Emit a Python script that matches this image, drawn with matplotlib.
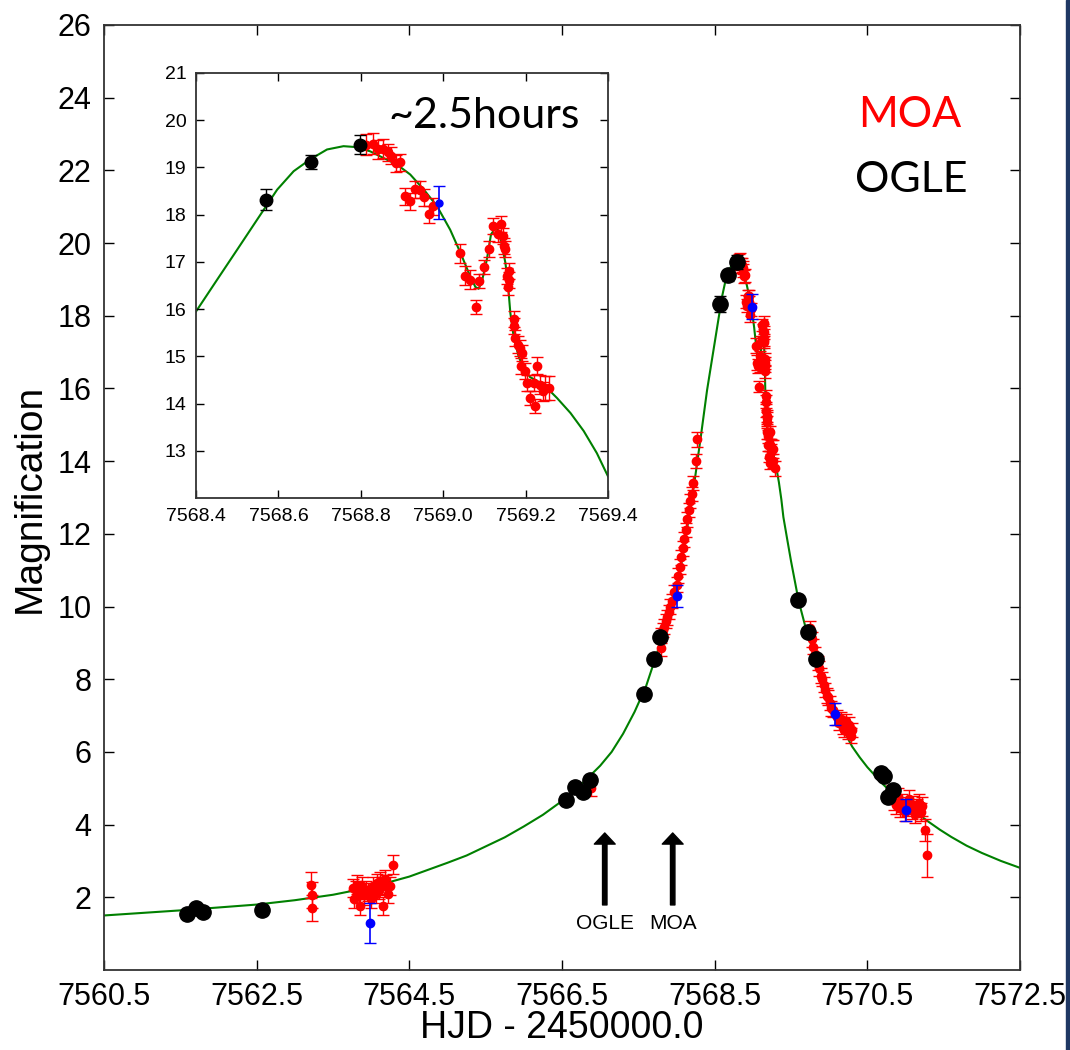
import numpy as np
import matplotlib
matplotlib.use('Agg')
import matplotlib.pyplot as plt
from matplotlib.patches import Rectangle

plt.rcParams['font.family'] = ['Liberation Sans', 'DejaVu Sans']

# ---- data ----
# model curve, main panel (left wing, right wing); the peak part is shared with the inset
model_left_t = [7560.5, 7561.0, 7561.5, 7562.0, 7562.5, 7563.0, 7563.5, 7564.0, 7564.5, 7565.0,
                7565.25, 7565.5, 7565.75, 7566.0, 7566.25, 7566.5, 7566.75, 7567.0, 7567.15, 7567.3,
                7567.45, 7567.6, 7567.75, 7567.85, 7567.95, 7568.05, 7568.15, 7568.24, 7568.32]
model_left_a = [1.50, 1.57, 1.64, 1.72, 1.80, 1.92, 2.07, 2.28, 2.57, 2.95,
                3.15, 3.40, 3.65, 3.95, 4.27, 4.65, 5.10, 5.62, 6.00, 6.50,
                7.10, 7.80, 8.75, 9.45, 10.10, 11.00, 12.30, 13.50, 14.70]
model_peak_t = [7568.4, 7568.451, 7568.5, 7568.548, 7568.597, 7568.637, 7568.677, 7568.718, 7568.758,
                7568.79, 7568.823, 7568.855, 7568.888, 7568.92, 7568.953, 7568.985, 7569.017, 7569.042,
                7569.062, 7569.078, 7569.086, 7569.094, 7569.106, 7569.116, 7569.127, 7569.135, 7569.143,
                7569.151, 7569.157, 7569.163, 7569.171, 7569.183, 7569.195, 7569.211, 7569.244, 7569.276,
                7569.309, 7569.341, 7569.373, 7569.4]
model_peak_a = [15.95, 16.62, 17.26, 17.89, 18.53, 18.92, 19.17, 19.38, 19.45,
                19.43, 19.34, 19.20, 19.06, 18.85, 18.53, 18.18, 17.68, 17.19,
                16.77, 16.47, 16.43, 16.59, 17.05, 17.58, 17.72, 17.65, 17.33,
                16.98, 16.55, 15.92, 15.42, 15.00, 14.75, 14.56, 14.40, 14.12,
                13.80, 13.42, 12.95, 12.46]
model_right_t = [7569.45, 7569.5, 7569.6, 7569.7, 7569.8, 7569.9, 7570.0, 7570.1, 7570.2, 7570.3,
                 7570.4, 7570.5, 7570.6, 7570.7, 7570.85, 7571.0, 7571.15, 7571.3, 7571.45, 7571.6,
                 7571.8, 7572.0, 7572.25, 7572.5]
model_right_a = [11.85, 11.25, 10.15, 9.35, 8.72, 8.15, 7.60, 7.02, 6.55, 6.15,
                 5.85, 5.58, 5.35, 5.12, 4.82, 4.56, 4.32, 4.08, 3.86, 3.66,
                 3.42, 3.22, 3.00, 2.81]

# OGLE (black)
ogle_t = [7561.59, 7561.70, 7561.80, 7562.57, 7566.55, 7566.67, 7566.78, 7566.87, 7567.57, 7567.71,
          7567.79, 7568.57, 7568.68, 7568.797, 7569.59, 7569.72, 7569.83, 7570.68, 7570.72, 7570.77, 7570.84]
ogle_a = [1.54, 1.70, 1.60, 1.65, 4.68, 5.03, 4.90, 5.23, 7.59, 8.55,
          9.16, 18.32, 19.11, 19.48, 10.17, 9.30, 8.55, 5.42, 5.34, 4.76, 4.95]
ogle_e = [0.10, 0.10, 0.10, 0.15, 0.10, 0.10, 0.10, 0.12, 0.10, 0.10,
          0.10, 0.23, 0.15, 0.20, 0.10, 0.10, 0.10, 0.10, 0.10, 0.10, 0.10]

# third data set (blue)
other_t = [7563.98, 7568.00, 7568.99, 7570.08, 7571.00]
other_a = [1.28, 10.29, 18.25, 7.04, 4.40]
other_e = [0.55, 0.30, 0.35, 0.30, 0.30]

# MOA (red) outside the peak
moa_t = [7563.21, 7563.22, 7563.23,
         7563.76, 7563.78, 7563.80, 7563.82, 7563.84, 7563.86, 7563.88, 7563.90, 7563.93, 7563.96,
         7564.00, 7564.03, 7564.06, 7564.08, 7564.10, 7564.12, 7564.14, 7564.16, 7564.18, 7564.20,
         7564.22, 7564.25, 7564.28,
         7566.88,
         7567.80, 7567.80, 7567.82, 7567.84, 7567.86, 7567.88, 7567.90, 7567.92, 7567.94, 7567.97,
         7568.00, 7568.02, 7568.04, 7568.06, 7568.08, 7568.10, 7568.12, 7568.14, 7568.16, 7568.18,
         7568.20, 7568.22, 7568.25, 7568.27,
         7569.27, 7569.29,
         7569.75, 7569.77, 7569.79, 7569.81, 7569.85, 7569.87, 7569.89, 7569.91, 7569.93, 7569.95,
         7569.97, 7569.99, 7570.01, 7570.03, 7570.05, 7570.10, 7570.13, 7570.16, 7570.18, 7570.20,
         7570.22, 7570.24, 7570.26, 7570.28, 7570.30,
         7570.82, 7570.85, 7570.88, 7570.90, 7570.93, 7570.96, 7570.99, 7571.02, 7571.05, 7571.08,
         7571.10, 7571.12, 7571.15, 7571.18, 7571.20, 7571.22, 7571.26, 7571.28]
moa_a = [2.34, 2.06, 1.70,
         2.25, 1.95, 2.20, 2.35, 2.10, 1.75, 2.30, 2.05, 2.20, 2.15,
         1.95, 2.30, 2.10, 2.40, 2.20, 2.45, 2.30, 1.75, 2.50, 2.35,
         2.10, 2.30, 2.90,
         5.00,
         8.85, 9.20, 9.35, 9.45, 9.60, 9.70, 9.85, 10.00, 10.15, 10.40,
         10.60, 10.85, 11.10, 11.35, 11.60, 11.85, 12.10, 12.40, 12.65, 12.90,
         13.10, 13.40, 14.00, 14.60,
         14.00, 13.80,
         9.40, 9.10, 8.90, 8.70, 8.45, 8.30, 8.10, 8.00, 7.85, 7.70,
         7.55, 7.50, 7.35, 7.20, 7.15, 6.95, 6.80, 6.90, 6.70, 6.60,
         6.85, 6.55, 6.75, 6.45, 6.60,
         4.85, 4.65, 4.55, 4.75, 4.45, 4.60, 4.35, 4.50, 4.70, 4.40,
         4.55, 4.30, 4.45, 4.60, 4.35, 4.50, 3.85, 3.15]
moa_e = [0.35, 0.35, 0.35,
         0.25, 0.25, 0.25, 0.25, 0.25, 0.25, 0.25, 0.25, 0.25, 0.25,
         0.25, 0.25, 0.25, 0.25, 0.25, 0.25, 0.25, 0.25, 0.25, 0.25,
         0.25, 0.25, 0.25,
         0.20,
         0.20, 0.20, 0.20, 0.20, 0.20, 0.20, 0.20, 0.20, 0.20, 0.20,
         0.20, 0.20, 0.20, 0.20, 0.20, 0.20, 0.20, 0.20, 0.20, 0.20,
         0.20, 0.20, 0.20, 0.20,
         0.20, 0.20,
         0.20, 0.20, 0.20, 0.20, 0.20, 0.20, 0.20, 0.20, 0.20, 0.20,
         0.20, 0.20, 0.20, 0.20, 0.20, 0.20, 0.20, 0.20, 0.20, 0.20,
         0.20, 0.20, 0.20, 0.20, 0.20,
         0.25, 0.25, 0.25, 0.25, 0.25, 0.25, 0.25, 0.25, 0.25, 0.25,
         0.25, 0.25, 0.25, 0.25, 0.25, 0.25, 0.30, 0.60]

# MOA (red) around the peak, shown in both panels
peak_moa_t = [7568.813, 7568.830, 7568.842, 7568.853, 7568.865, 7568.873, 7568.885, 7568.896,
              7568.908, 7568.92, 7568.932, 7568.943, 7568.953, 7568.965, 7568.975,
              7569.042, 7569.052, 7569.066, 7569.079, 7569.088, 7569.098, 7569.11, 7569.122, 7569.132, 7569.141,
              7569.145, 7569.147, 7569.151, 7569.155, 7569.159, 7569.16, 7569.157,
              7569.173, 7569.171, 7569.175, 7569.181, 7569.187, 7569.191, 7569.189, 7569.199, 7569.203, 7569.211,
              7569.22, 7569.224, 7569.228, 7569.236, 7569.242, 7569.248, 7569.258]
peak_moa_a = [19.48, 19.50, 19.38, 19.40, 19.32, 19.25, 19.09, 19.11,
              18.39, 18.28, 18.54, 18.53, 18.37, 18.01, 18.18,
              17.18, 16.71, 16.62, 16.05, 16.59, 16.89, 17.27, 17.75, 17.59, 17.81,
              17.54, 17.33, 17.27, 16.70, 16.80, 16.62, 16.47,
              15.79, 15.64, 15.39, 15.25, 15.18, 15.07, 14.79, 14.68, 14.44, 14.12,
              14.44, 13.94, 14.80, 14.40, 14.26, 14.33, 14.33]
peak_moa_e = [0.22, 0.22, 0.20, 0.20, 0.18, 0.18, 0.18, 0.18,
              0.18, 0.18, 0.18, 0.18, 0.18, 0.18, 0.18,
              0.20, 0.20, 0.20, 0.15, 0.15, 0.15, 0.17, 0.17, 0.17, 0.17,
              0.17, 0.17, 0.17, 0.17, 0.17, 0.17, 0.17,
              0.17, 0.17, 0.17, 0.17, 0.17, 0.17, 0.17, 0.17, 0.17, 0.15,
              0.17, 0.15, 0.18, 0.20, 0.20, 0.25, 0.25]

# arrows marking alert times
alert_t = [7567.06, 7567.95]
alert_names = ['OGLE', 'MOA']

model_t = model_left_t + model_peak_t + model_right_t
model_a = model_left_a + model_peak_a + model_right_a
all_moa_t = moa_t + peak_moa_t
all_moa_a = moa_a + peak_moa_a
all_moa_e = moa_e + peak_moa_e

fig = plt.figure(figsize=(10.7, 10.5), dpi=100)

# ---- main panel ----
ax = fig.add_axes([0.0972, 0.0762, 0.8561, 0.9])
ax.plot(model_t, model_a, color='green', lw=1.5, zorder=1)
ax.errorbar(all_moa_t, all_moa_a, yerr=all_moa_e, fmt='o', color='red', ms=6, capsize=4,
            elinewidth=1, capthick=1, zorder=2)
ax.errorbar(ogle_t, ogle_a, yerr=ogle_e, fmt='o', color='black', ms=11, capsize=4,
            elinewidth=1, zorder=3)
ax.errorbar(other_t, other_a, yerr=other_e, fmt='o', color='blue', ms=6, capsize=4,
            elinewidth=1.2, zorder=4)

for t, name in zip(alert_t, alert_names):
    ax.annotate('', xy=(t, 3.77), xytext=(t, 1.79),
                arrowprops=dict(facecolor='black', edgecolor='black', width=3.2,
                                headwidth=15, headlength=8, shrink=0))
    ax.text(t, 1.29, name, ha='center', va='center', fontsize=15)

ax.set_xlim(7560.5, 7572.5)
ax.set_ylim(0, 26)
ax.set_xticks(np.arange(7560.5, 7573, 2.0))
ax.set_xticklabels(['%.1f' % v for v in np.arange(7560.5, 7573, 2.0)])
ax.set_yticks(np.arange(2, 27, 2))
ax.tick_params(direction='in', top=True, right=True, length=7, width=1, labelsize=22, pad=9)
for s in ax.spines.values():
    s.set_linewidth(1.3)
    s.set_color('#333333')

fig.text(0.525, 0.004, 'HJD - 2450000.0', fontsize=27, ha='center', va='bottom')
fig.text(0.028, 1 - 498 / 1050, 'Magnification', fontsize=28, rotation=90,
         ha='center', va='center')

# ---- inset ----
axi = fig.add_axes([0.1832, 0.5257, 0.3850, 0.4048])
axi.plot(model_peak_t, model_peak_a, color='green', lw=1.5, zorder=1)
axi.errorbar(peak_moa_t, peak_moa_a, yerr=peak_moa_e, fmt='o', color='red', ms=6, capsize=4,
             elinewidth=1, zorder=2)
axi.errorbar(ogle_t, ogle_a, yerr=ogle_e, fmt='o', color='black', ms=9, capsize=4,
             elinewidth=1, zorder=3)
axi.errorbar(other_t, other_a, yerr=other_e, fmt='o', color='blue', ms=5, capsize=4,
             elinewidth=1.2, zorder=4)
axi.set_xlim(7568.4, 7569.4)
axi.set_ylim(12, 21)
axi.set_xticks(np.arange(7568.4, 7569.45, 0.2))
axi.set_xticklabels(['%.1f' % v for v in np.arange(7568.4, 7569.45, 0.2)])
axi.set_yticks(np.arange(13, 22, 1))
axi.tick_params(direction='in', top=True, right=True, length=6, width=1, labelsize=14, pad=7)
for s in axi.spines.values():
    s.set_linewidth(1.3)
    s.set_color('#333333')

fig.text(0.3626, 0.878, '~2.5hours', fontsize=31, family=['Lato', 'DejaVu Sans'], va='baseline')
fig.text(0.850, 0.879, 'MOA', fontsize=31, color='red', family=['Lato', 'DejaVu Sans'],
         ha='center', va='baseline')
fig.text(0.852, 0.817, 'OGLE', fontsize=31, color='black', family=['Lato', 'DejaVu Sans'],
         ha='center', va='baseline')

# dark slide border at the right edge
fig.patches.append(Rectangle((0.9963, 0), 0.0037, 1, transform=fig.transFigure,
                             color='#1f3864', zorder=5))

fig.savefig('out.png', dpi=100)
